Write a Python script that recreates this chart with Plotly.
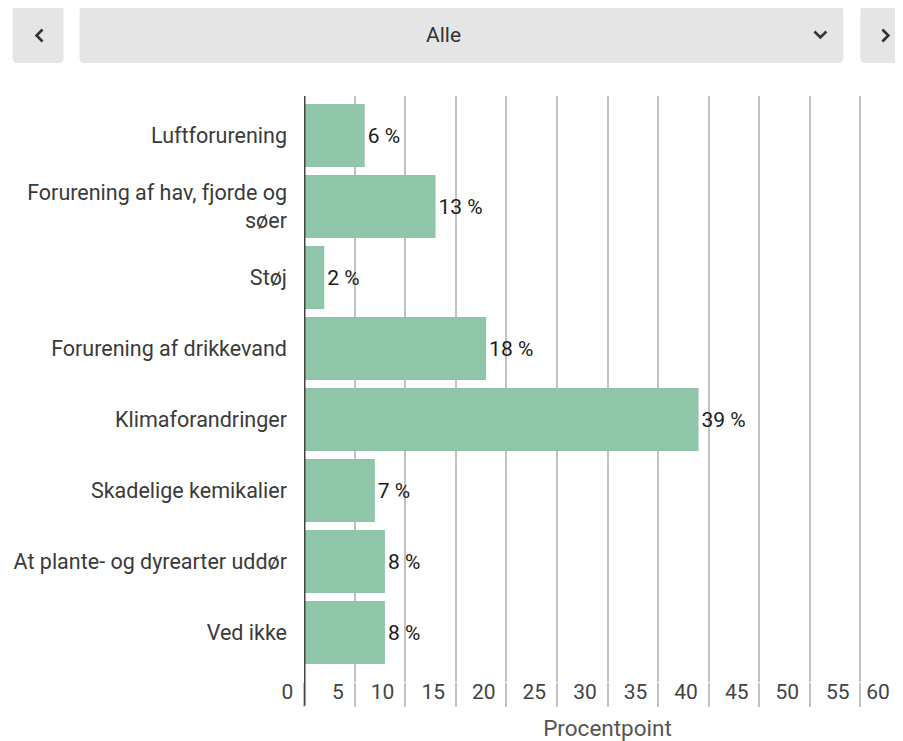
import plotly.graph_objects as go

# ---- data ----
categories = [
    "Luftforurening",
    "Forurening af hav, fjorde og<br>søer",
    "Støj",
    "Forurening af drikkevand",
    "Klimaforandringer",
    "Skadelige kemikalier",
    "At plante- og dyrearter uddør",
    "Ved ikke",
]
values = [6, 13, 2, 18, 39, 7, 8, 8]
value_labels = [f"{v} %" for v in values]
tick_values = list(range(0, 65, 5))
tick_labels = [str(v) for v in tick_values]
axis_title = "Procentpoint"
selector_label = "Alle"

# ---- geometry (page pixels; the page body has an 8px margin) ----
OFF = 8
W, H = 903, 733
ML = 303.5 - OFF
MT = 96 - OFF
PLOT_BOTTOM = 682 - OFF
MB = H - PLOT_BOTTOM
MR = W - (910.6 - OFF)
PW = W - ML - MR
PH = H - MT - MB

FONT = "Roboto"
BAR_COLOR = "#8fc5a9"
GRID = "#c2c2c2"


def px(x):
    return (x - OFF - ML) / PW


def py(y):
    return 1 - (y - OFF - MT) / PH


def rounded_rect(x0, y0, x1, y1, r):
    pts = [
        f"M {px(x0 + r)},{py(y0)}",
        f"L {px(x1 - r)},{py(y0)}",
        f"Q {px(x1)},{py(y0)} {px(x1)},{py(y0 + r)}",
        f"L {px(x1)},{py(y1 - r)}",
        f"Q {px(x1)},{py(y1)} {px(x1 - r)},{py(y1)}",
        f"L {px(x0 + r)},{py(y1)}",
        f"Q {px(x0)},{py(y1)} {px(x0)},{py(y1 - r)}",
        f"L {px(x0)},{py(y0 + r)}",
        f"Q {px(x0)},{py(y0)} {px(x0 + r)},{py(y0)}",
        "Z",
    ]
    return " ".join(pts)


def polyline(points):
    return "M " + " L ".join(f"{px(a)},{py(b)}" for a, b in points)


fig = go.Figure(
    go.Bar(
        x=values,
        y=categories,
        orientation="h",
        marker=dict(color=BAR_COLOR, line=dict(width=0)),
        width=0.89,
        text=value_labels,
        textposition="outside",
        textfont=dict(family=FONT, size=21, color="#1a1a1a"),
        cliponaxis=False,
        hoverinfo="skip",
    )
)

shapes = []
btn = "#e5e5e5"
for (x0, x1) in [(12, 63), (79, 843), (860, 940)]:
    shapes.append(dict(type="path", xref="paper", yref="paper",
                       path=rounded_rect(x0, 6, x1, 63, 5),
                       fillcolor=btn, line=dict(width=0), layer="above"))
chev = dict(color="#333333", width=2.6)
shapes.append(dict(type="path", xref="paper", yref="paper",
                   path=polyline([(42, 29.5), (36, 35.5), (42, 41.5)]), line=chev))
shapes.append(dict(type="path", xref="paper", yref="paper",
                   path=polyline([(882, 29.5), (888, 35.5), (882, 41.5)]), line=chev))
shapes.append(dict(type="path", xref="paper", yref="paper",
                   path=polyline([(814, 31.5), (820, 37.5), (826, 31.5)]), line=chev))
# zero axis line (extends through the tick-label band like the grid)
shapes.append(dict(type="line", xref="x", yref="paper", x0=0, x1=0,
                   y0=py(705.5), y1=1, line=dict(color="#444444", width=3), layer="above"))

annotations = [
    dict(x=px(443), y=py(35), xref="paper", yref="paper", text=selector_label,
         showarrow=False, font=dict(family=FONT, size=21, color="#333333"),
         xanchor="center", yanchor="middle"),
]

# the last label sits at the window edge: pad it (right-anchored) so it stays visible
shown_tick_text = tick_labels[:-1] + [tick_labels[-1] + "\u00a0\u00a0"]

fig.update_layout(
    width=W,
    height=H,
    margin=dict(l=ML, r=MR, t=MT, b=MB, pad=0),
    paper_bgcolor="white",
    plot_bgcolor="white",
    showlegend=False,
    bargap=0.11,
    font=dict(family=FONT, size=21, color="#333333"),
    shapes=shapes,
    annotations=annotations,
    xaxis=dict(
        range=[0, 60],
        tickvals=tick_values,
        ticktext=shown_tick_text,
        ticklabelposition="outside left",
        ticks="outside",
        ticklen=24,
        tickwidth=1.5,
        tickcolor=GRID,
        ticklabelstandoff=-9,
        ticklabelshift=-10,
        showgrid=True,
        gridcolor=GRID,
        gridwidth=1.5,
        zeroline=False,
        showline=False,
        tickfont=dict(family=FONT, size=21, color="#444444"),
        title=dict(text=axis_title, font=dict(family=FONT, size=22.5, color="#555555"), standoff=19),
        fixedrange=True,
    ),
    yaxis=dict(
        type="category",
        categoryorder="array",
        categoryarray=categories,
        range=[(682 - 135.5) / 71, (96 - 135.5) / 71],
        showline=False,
        showgrid=False,
        zeroline=False,
        ticks="",
        ticklabelstandoff=16,
        tickfont=dict(family=FONT, size=21.5, color="#3a3a3a"),
        fixedrange=True,
    ),
)

fig.write_html("out.html", config={"displayModeBar": False})
